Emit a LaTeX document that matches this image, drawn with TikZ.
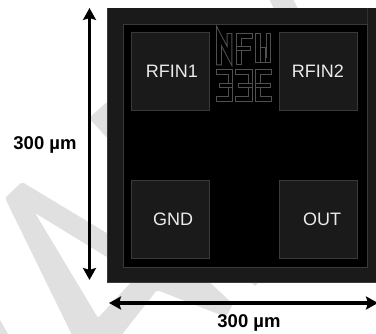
\documentclass[tikz,border=0pt]{standalone}
\usepackage{fontspec}
\setmainfont{Liberation Sans}
\usetikzlibrary{arrows.meta}
\definecolor{chipgrey}{HTML}{1A1A1A}
\definecolor{edgegrey}{HTML}{3A3A3A}
\definecolor{lettergrey}{HTML}{505050}
\definecolor{wmgrey}{HTML}{E0E0E0}
\tikzset{
  wmark/.style={fill=wmgrey,rounded corners=2pt},
  pad/.style={draw=edgegrey,fill=chipgrey,line width=.8pt,minimum size=78pt,inner sep=0pt},
  padtext/.style={text=white!92!black,font=\fontsize{18}{20}\selectfont},
  letter/.style={draw=lettergrey,line width=5.6pt,line cap=rect,postaction={draw=black,line width=3.6pt}},
  dim/.style={line width=3.2pt,{Stealth[length=12pt,width=13pt,inset=2pt]}-{Stealth[length=12pt,width=13pt,inset=2pt]}},
  dimtext/.style={font=\bfseries\fontsize{18.5}{20}\selectfont}
}
\begin{document}
\begin{tikzpicture}[x=1pt,y=-1pt]
\useasboundingbox (0,0) rectangle (376,334);
\fill[white] (0,0) rectangle (376,334);

\fill[wmark] (5,198) -- (22,182) -- (120,241) -- (120,265) -- (35,213) -- (98,318) -- (135,278)
  -- (205,278) -- (233,304) -- (226,317) -- (157,290) -- (120,337) -- (73,337) -- cycle;
\fill[wmark] (107,102) -- (89,118) -- (107,138) -- cycle;
\fill[wmgrey] (269,-1) -- (293,-1) -- (298,9) -- (274,9) -- cycle;
\fill[wmgrey] (250,281) -- (260,281) -- (255,286) -- cycle;
\fill[wmgrey] (0,320) -- (8,334) -- (0,334) -- cycle;

\fill[chipgrey] (107,8) rectangle (378,282);
\draw[edgegrey,line width=.8pt] (107,282) -- (107,8);
\draw[edgegrey,line width=.8pt] (107,282) -- (378,282);
\draw[edgegrey,fill=black,line width=.8pt] (123,24) rectangle (367,267);
\draw[edgegrey!70!chipgrey,line width=.8pt] (367,8) -- (367,24);

\node[pad,label={[padtext,xshift=2pt]center:RFIN1}] (rfin1) at (170,71.5) {};
\node[pad,label={[padtext,xshift=-0.5pt]center:RFIN2}] (rfin2) at (318.5,71.5) {};
\node[pad,label={[padtext,xshift=3pt]center:GND}] (gnd) at (170,219) {};
\node[pad,label={[padtext,xshift=3.5pt]center:OUT}] (out) at (318.5,219) {};

\draw[letter] (219,62.5) -- (219,36) -- (229.5,56) -- (229.5,36);
\draw[letter] (239,62.5) -- (239,36) -- (250,36);
\draw[letter] (239,48.5) -- (248,48.5);
\draw[letter] (258,36) -- (258,60) -- (268.5,60) -- (268.5,36);
\draw[letter] (263.2,50) -- (263.2,60);
\draw[letter] (219,72) -- (230.5,72) -- (230.5,99) -- (219,99);
\draw[letter] (222,85.5) -- (230.5,85.5);
\draw[letter] (238,72) -- (250.5,72) -- (250.5,99) -- (238,99);
\draw[letter] (241,85.5) -- (250.5,85.5);
\draw[letter] (269.5,72) -- (258,72) -- (258,99) -- (269.5,99);
\draw[letter] (258,85.5) -- (268,85.5);

\coordinate (vtop) at (89.5,8);
\coordinate (vbot) at (89.5,280);
\coordinate (hleft) at (109,303);
\coordinate (hright) at (378,303);
\draw[dim] (vtop) -- (vbot);
\draw[dim] (hleft) -- (hright);
\node[dimtext] (vlabel) at (45,145) {300 µm};
\node[dimtext] (hlabel) at (249,323) {300 µm};
\end{tikzpicture}
\end{document}
